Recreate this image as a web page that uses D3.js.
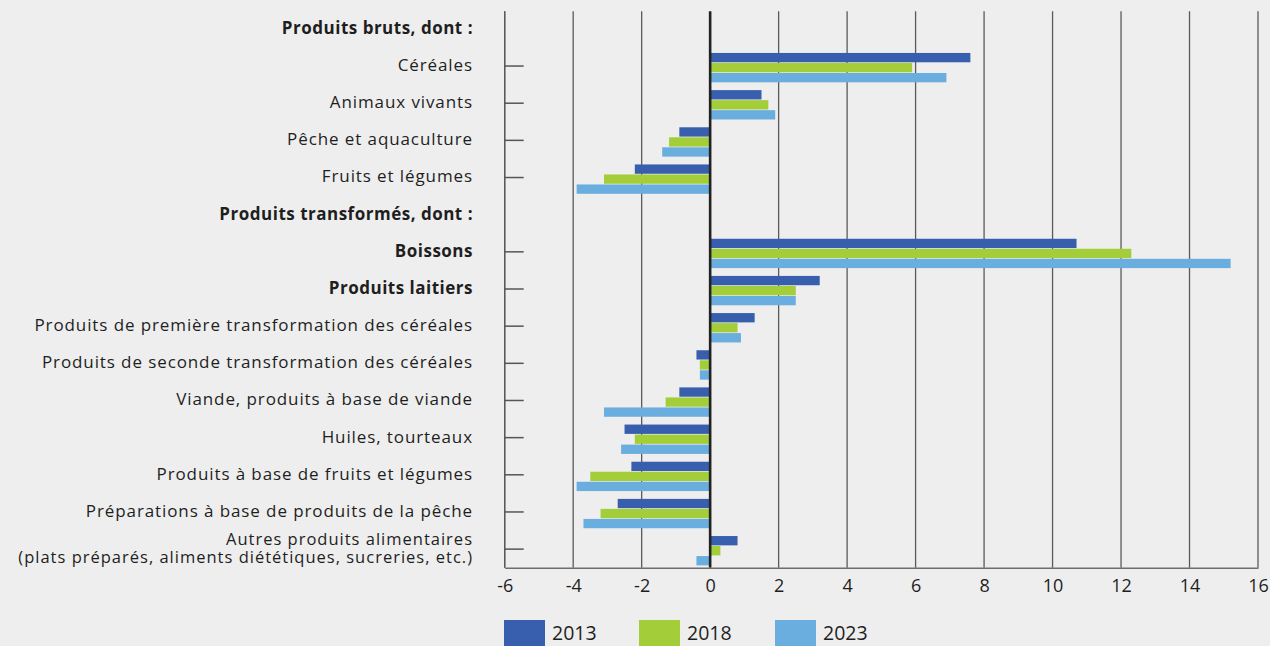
<!DOCTYPE html>
<html>
<head>
<meta charset="utf-8">
<script src="https://cdn.jsdelivr.net/npm/d3@7"></script>
<style>
  html, body { margin: 0; padding: 0; background: #eeeeee; }
  svg { display: block; }
  text { font-family: "Open Sans", "DejaVu Sans", sans-serif; fill: #1e1e1e; }
</style>
</head>
<body>
<script>
// ---- Data ----
const categories = [
  "Produits bruts, dont :",
  "Céréales",
  "Animaux vivants",
  "Pêche et aquaculture",
  "Fruits et légumes",
  "Produits transformés, dont :",
  "Boissons",
  "Produits laitiers",
  "Produits de première transformation des céréales",
  "Produits de seconde transformation des céréales",
  "Viande, produits à base de viande",
  "Huiles, tourteaux",
  "Produits à base de fruits et légumes",
  "Préparations à base de produits de la pêche",
  "Autres produits alimentaires|(plats préparés, aliments diététiques, sucreries, etc.)"
];
const boldCategories = ["Produits bruts, dont :", "Produits transformés, dont :", "Boissons", "Produits laitiers"];
const headerCategories = ["Produits bruts, dont :", "Produits transformés, dont :"];
const seriesNames = ["2013", "2018", "2023"];
const values2013 = [null, 7.6, 1.5, -0.9, -2.2, null, 10.7, 3.2, 1.3, -0.4, -0.9, -2.5, -2.3, -2.7, 0.8];
const values2018 = [null, 5.9, 1.7, -1.2, -3.1, null, 12.3, 2.5, 0.8, -0.3, -1.3, -2.2, -3.5, -3.2, 0.3];
const values2023 = [null, 6.9, 1.9, -1.4, -3.9, null, 15.2, 2.5, 0.9, -0.3, -3.1, -2.6, -3.9, -3.7, -0.4];
const tickValues = [-6, -4, -2, 0, 2, 4, 6, 8, 10, 12, 14, 16];
const colors = ["#375fad", "#a3cd39", "#6aaddf"];

const seriesValues = [values2013, values2018, values2023];

// ---- Layout ----
const W = 1270, H = 646;
const mLeft = 504.7, mRight = 1258, mTop = 10.3, mBottom = 567.7;

const svg = d3.select("body").append("svg").attr("width", W).attr("height", H);

const x = d3.scaleLinear().domain([-6, 16]).range([mLeft, mRight]);
const y = d3.scaleBand().domain(d3.range(categories.length)).range([mTop, mBottom]).padding(0);
const step = y.bandwidth();
const sub = d3.scaleBand().domain(d3.range(seriesNames.length))
  .range([5.5, step - 2.3]).paddingInner(0.07);

// gridlines
svg.append("g").selectAll("line").data(tickValues.filter(d => d !== 0)).join("line")
  .attr("x1", d => x(d)).attr("x2", d => x(d))
  .attr("y1", mTop + 1).attr("y2", mBottom)
  .attr("stroke", "#5a5a5a").attr("stroke-width", 1.3);

// bars
categories.forEach((c, i) => {
  seriesValues.forEach((vals, s) => {
    const v = vals[i];
    if (v === null) return;
    svg.append("rect")
      .attr("x", x(Math.min(0, v)))
      .attr("width", Math.abs(x(v) - x(0)))
      .attr("y", y(i) + sub(s))
      .attr("height", sub.bandwidth())
      .attr("fill", colors[s]);
  });
});

// zero line
svg.append("line")
  .attr("x1", x(0)).attr("x2", x(0)).attr("y1", mTop + 1).attr("y2", mBottom)
  .attr("stroke", "#222").attr("stroke-width", 2.6);

// bottom axis
const xAxis = svg.append("g").attr("transform", `translate(0,${mBottom})`)
  .call(d3.axisBottom(x).tickValues(tickValues).tickSize(0).tickPadding(0).tickFormat(d => String(d)));
xAxis.select(".domain").attr("stroke", "#6e6e6e").attr("stroke-width", 1.6);
xAxis.selectAll("text")
  .attr("y", 18).attr("dy", "0.35em")
  .style("font-size", "18px").style("font-family", "\"Open Sans\", sans-serif").attr("fill", "#1e1e1e");

// left axis ticks
svg.append("line").attr("x1", mLeft).attr("x2", mLeft).attr("y1", mTop + 1).attr("y2", mBottom)
  .attr("stroke", "#5a5a5a").attr("stroke-width", 1.3);
svg.append("g").selectAll("line")
  .data(d3.range(categories.length).filter(i => !headerCategories.includes(categories[i])))
  .join("line")
  .attr("x1", mLeft).attr("x2", mLeft + 19)
  .attr("y1", i => y(i) + step / 2).attr("y2", i => y(i) + step / 2)
  .attr("stroke", "#555").attr("stroke-width", 1.5);

// category labels
const lab = svg.append("g");
categories.forEach((c, i) => {
  const cy = y(i) + step / 2 - 1;
  const lines = c.split("|");
  const bold = boldCategories.includes(c);
  lines.forEach((ln, k) => {
    lab.append("text")
      .attr("text-anchor", "end")
      .style("font-size", lines.length > 1 ? "16.5px" : "17px")
      .style("letter-spacing", bold ? "0.5px" : (lines.length > 1 ? "1px" : "0.9px"))
      .style("font-weight", bold ? 700 : 400)
      .attr("x", 473)
      .attr("y", cy + (k - (lines.length - 1) / 2) * 17.5)
      .attr("dy", "0.35em").text(ln);
  });
});

// legend
const legX = [504, 639, 775];
seriesNames.forEach((s, k) => {
  svg.append("rect").attr("x", legX[k]).attr("y", 620).attr("width", 41).attr("height", 30).attr("fill", colors[k]);
  svg.append("text").attr("x", legX[k] + 48).attr("y", 640).style("font-size", "19.5px").text(s);
});
</script>
</body>
</html>
